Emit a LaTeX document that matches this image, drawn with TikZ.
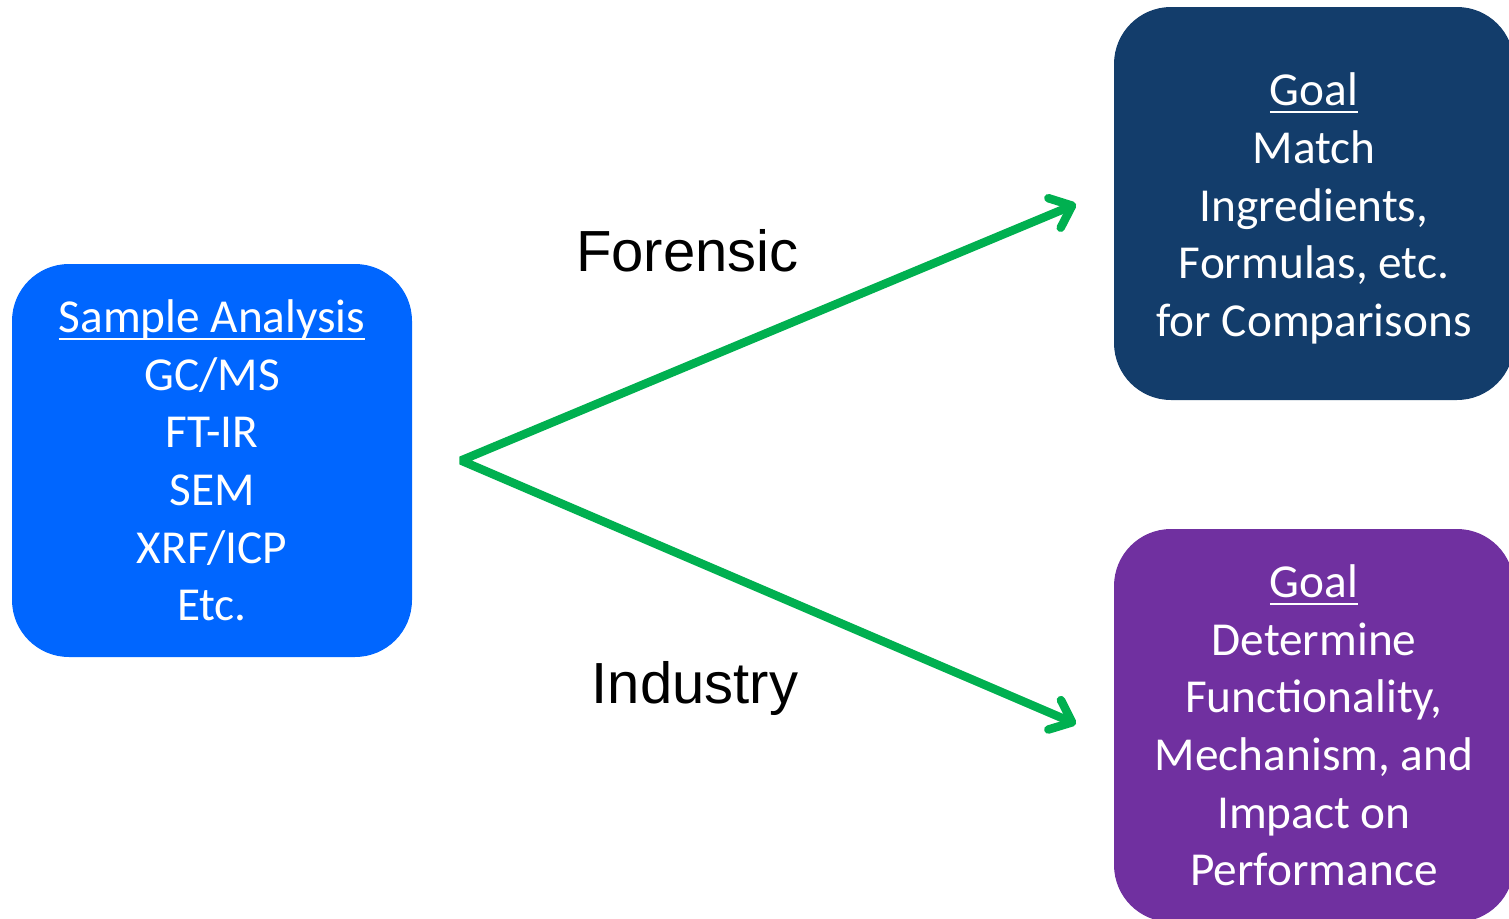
\documentclass[tikz,border=0pt]{standalone}
\usepackage{fontspec}
\setmainfont{Carlito}
\newfontfamily\arialf{Liberation Sans}
\usetikzlibrary{arrows.meta}
\definecolor{boxblue}{HTML}{0066FF}
\definecolor{boxnavy}{HTML}{133D6B}
\definecolor{boxpurple}{HTML}{7030A0}
\definecolor{arrowgreen}{HTML}{00B050}
\newcommand\goalul[1]{\setbox0\hbox{#1}\rlap{\rule[-7.3pt]{\wd0}{2.4pt}}\box0}
\begin{document}
\begin{tikzpicture}[x=1pt,y=-1pt,
  goalbox/.style={rounded corners=57pt, minimum width=400pt, minimum height=393pt,
    inner sep=0pt, text=white, align=center,
    font=\fontsize{47.3pt}{57.6pt}\selectfont},
  arrowline/.style={draw=arrowgreen, line width=8.5pt, line join=bevel,
    {Straight Barb[length=19pt,width=32pt,round]}-{Straight Barb[length=19pt,width=32pt,round]}},
  labeltext/.style={font=\arialf\fontsize{58pt}{70pt}\selectfont, anchor=base, inner sep=0pt}]
\useasboundingbox (0,0) rectangle (1509,918);
\clip (0,0) rectangle (1509,918);

\node[goalbox, fill=boxblue] (sample) at (212,460.5)
  {\goalul{Sample Analysis}\\GC/MS\\FT-IR\\SEM\\XRF/ICP\\Etc.};
\node[goalbox, fill=boxnavy] (forgoal) at (1314,203.5)
  {\rule{0pt}{43pt}\goalul{Goal}\\Match\\Ingredients,\\Formulas, etc.\\for Comparisons};
\node[goalbox, fill=boxpurple] (indgoal) at (1314,725.5)
  {\goalul{Goal}\\Determine\\Functionality,\\Mechanism, and\\Impact on\\Performance};

\node[labeltext] (forensic) at (687.5,271) {Forensic};
\node[labeltext] (industry) at (695,703) {Industry};

\coordinate (vtx) at (461,460.5);
\coordinate (fend) at (1076,204);
\coordinate (iend) at (1076,724);
\draw[arrowline] (fend) -- (vtx) -- (iend);
\end{tikzpicture}
\end{document}
